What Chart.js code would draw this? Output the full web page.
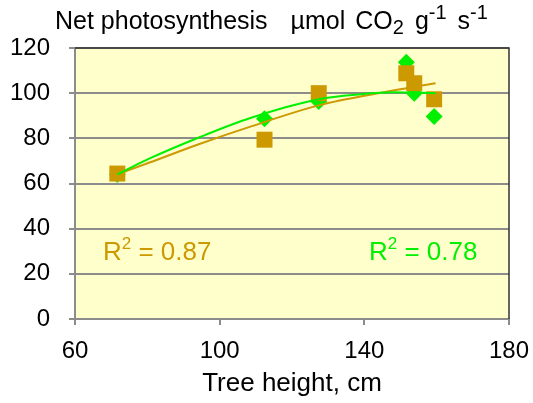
<!DOCTYPE html>
<html>
<head>
<meta charset="utf-8">
<script src="https://cdn.jsdelivr.net/npm/chart.js@4"></script>
<style>
  html, body { margin: 0; padding: 0; background: #fff; }
</style>
</head>
<body>
<canvas id="photoChart" width="533" height="403"></canvas>
<script>
// measured points
const heights = [71.7, 112.4, 127.4, 151.6, 153.8, 159.3];
const goldValues = [64.4, 79.4, 100.0, 108.8, 104.4, 97.3];
const greenValues = [64.0, 88.7, 96.3, 113.7, 100.0, 89.7];

// trend lines
const goldTrendX = [71.7, 80.8, 94.6, 108.5, 127.4, 145.0, 159.7];
const goldTrendY = [64.0, 69.4, 77.6, 85.2, 94.6, 100.3, 104.4];
const greenTrendX = [71.7, 80.8, 94.6, 108.5, 127.4, 138.9, 148.2, 159.7];
const greenTrendY = [64.0, 71.2, 80.6, 89.0, 97.3, 99.5, 100.4, 100.0];

const xTicks = [60, 100, 140, 180];
const yTicks = [0, 20, 40, 60, 80, 100, 120];

const GOLD = '#cc9900';
const GREEN = '#00f000';
const FONT = '"Liberation Sans", Arial, sans-serif';

const toPoints = (xs, ys) => xs.map((x, i) => ({ x, y: ys[i] }));

const plotFrame = {
  id: 'plotFrame',
  beforeDraw(chart) {
    const { ctx, chartArea: a } = chart;
    ctx.save();
    ctx.fillStyle = '#ffffcc';
    ctx.fillRect(a.left, a.top, a.right - a.left, a.bottom - a.top);
    ctx.restore();
  },
  beforeDatasetsDraw(chart) {
    const { ctx, chartArea: a } = chart;
    ctx.save();
    ctx.strokeStyle = '#333';
    ctx.lineWidth = 1.5;
    ctx.beginPath();
    ctx.moveTo(a.left, a.top);
    ctx.lineTo(a.right, a.top);
    ctx.lineTo(a.right, a.bottom);
    ctx.stroke();
    ctx.restore();
  },
  afterDraw(chart) {
    const { ctx } = chart;
    ctx.save();
    ctx.textBaseline = 'alphabetic';
    ctx.textAlign = 'left';

    // title with sub/superscripts: [text, size, baseline shift, gap before]
    const parts = [
      ['Net photosynthesis', 25, 0, 0],
      ['\u00b5mol', 25, 0, 23],
      ['CO', 25, 0, 10],
      ['2', 20, 5, 0],
      ['g', 25, 0, 11],
      ['-1', 20, -10, 0],
      ['s', 25, 0, 11],
      ['-1', 20, -10, 0],
    ];
    let x = 55;
    ctx.fillStyle = '#000';
    parts.forEach(([t, size, dy, gap]) => {
      ctx.font = size + 'px ' + FONT;
      x += gap;
      ctx.fillText(t, x, 29 + dy);
      x += ctx.measureText(t).width;
    });

    // R² labels
    const r2 = (text, x0, color) => {
      ctx.fillStyle = color;
      ctx.font = '26px ' + FONT;
      ctx.fillText('R', x0, 260);
      let xx = x0 + ctx.measureText('R').width;
      ctx.font = '17px ' + FONT;
      ctx.fillText('2', xx, 249);
      xx += ctx.measureText('2').width;
      ctx.font = '26px ' + FONT;
      ctx.fillText(text, xx, 260);
    };
    r2(' = 0.87', 103, GOLD);
    r2(' = 0.78', 369, GREEN);
    ctx.restore();
  },
};

new Chart(document.getElementById('photoChart'), {
  type: 'scatter',
  data: {
    datasets: [
      {
        type: 'line',
        data: toPoints(greenTrendX, greenTrendY),
        borderColor: GREEN,
        borderWidth: 2,
        pointRadius: 0,
        cubicInterpolationMode: 'monotone',
        fill: false,
        order: 0,
      },
      {
        type: 'line',
        data: toPoints(goldTrendX, goldTrendY),
        borderColor: GOLD,
        borderWidth: 2,
        pointRadius: 0,
        cubicInterpolationMode: 'monotone',
        fill: false,
        order: 1,
      },
      {
        data: toPoints(heights, goldValues),
        pointStyle: 'rect',
        pointRadius: 11.3,
        backgroundColor: GOLD,
        borderColor: GOLD,
        borderWidth: 0,
        order: 2,
      },
      {
        data: toPoints(heights, greenValues),
        pointStyle: 'rectRot',
        pointRadius: 8.5,
        backgroundColor: GREEN,
        borderColor: GREEN,
        borderWidth: 0,
        order: 3,
      },
    ],
  },
  options: {
    responsive: false,
    animation: false,
    layout: { padding: { top: 48, right: 24, left: 0, bottom: 0 } },
    scales: {
      x: {
        type: 'linear',
        min: 60,
        max: 180,
        afterBuildTicks: s => { s.ticks = xTicks.map(v => ({ value: v })); },
        afterFit: s => { s.height = 84; s.paddingLeft = 0; s.paddingRight = 0; },
        ticks: { color: '#000', font: { family: FONT, size: 24 }, padding: 12 },
        grid: { drawOnChartArea: false, drawTicks: true, tickLength: 6, color: '#8c8c8c', lineWidth: 2 },
        border: { color: '#8c8c8c', width: 2 },
        title: {
          display: true,
          text: 'Tree height, cm',
          color: '#000',
          font: { family: FONT, size: 26 },
          padding: { top: 0, bottom: 4 },
        },
      },
      y: {
        min: 0,
        max: 120,
        afterBuildTicks: s => { s.ticks = yTicks.map(v => ({ value: v })); },
        afterFit: s => { s.width = 75; },
        ticks: { color: '#000', font: { family: FONT, size: 24 }, padding: 19 },
        grid: { color: '#8c8c8c', lineWidth: 2, tickLength: 6 },
        border: { color: '#8c8c8c', width: 2 },
      },
    },
    plugins: {
      legend: { display: false },
      tooltip: { enabled: false },
    },
  },
  plugins: [plotFrame],
});
</script>
</body>
</html>
